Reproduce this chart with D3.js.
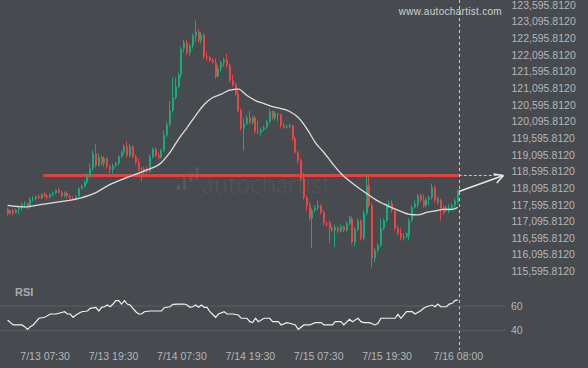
<!DOCTYPE html>
<html><head><meta charset="utf-8">
<script src="https://cdn.jsdelivr.net/npm/d3@7"></script>
<style>html,body{margin:0;padding:0;background:#474a4f;overflow:hidden}</style>
</head><body><svg id="c" width="588" height="368"></svg>
<script>
// ---- data (30-minute candles) ----
const startTime = "2024-07-13T01:00";
const open = [117452,117332,117422,117347,117437,117482,117602,117632,117512,117752,117782,117842,117797,117917,117857,117812,117902,117947,118037,117962,117857,117947,117842,117782,117767,117842,118082,118142,118262,118442,118682,119132,118772,119012,118832,118982,118742,118652,118772,118832,119042,119162,119342,119072,119342,119042,118862,118622,118562,118682,118592,119042,119252,119072,119012,119222,119672,120002,120422,120812,121142,121502,122282,122462,122162,122372,122672,122792,122522,122702,122042,122012,121922,121862,121442,121682,121862,121952,121772,121322,121202,120932,120422,119882,120032,120212,120062,120212,119792,119762,119852,119912,120092,120392,120212,120332,120302,119972,119912,119942,119972,119582,119162,118922,118382,117812,117572,117182,117422,117512,117572,117362,117032,117062,116882,116822,116912,116792,116942,116822,117032,117182,116462,116852,117122,116582,117332,118172,117572,115982,116222,116372,116882,117122,117572,117632,117422,116882,116732,116612,116642,116672,117122,117512,117572,117872,117722,117572,117752,117812,118112,117662,117722,117512,117422,117392,117452,117572,117662];
const high = [117512,117452,117482,117482,117512,117662,117692,117662,117812,117842,117872,117902,117932,117992,117902,117932,117992,118052,118112,118022,117992,117992,117902,117842,117872,118112,118202,118322,118532,118832,119222,119432,119132,119072,119042,119012,118802,118832,118892,119072,119222,119402,119492,119432,119372,119102,118982,118712,118742,118742,119102,119312,119312,119162,119282,119822,120062,120722,121412,121412,121562,122342,122552,122552,122432,122732,123122,122882,122792,122732,122162,122072,122012,121982,121772,121922,122012,122132,121832,121502,121262,121022,120482,120182,120272,120422,120272,120272,120122,119912,119972,120152,120482,120422,120422,120362,120332,120062,120002,120032,120002,119642,119222,118982,118562,117872,117662,117482,117572,117722,117602,117422,117092,117122,116972,117002,116942,117002,116972,117092,117272,117242,116912,117182,117152,117422,118472,118472,117632,116282,116432,117182,117182,117632,117722,117722,117482,116972,116882,116732,116762,117182,117572,117722,117932,117932,117902,117812,117872,118232,118172,117842,117782,117572,117572,117602,117632,117782,118052];
const low = [117272,117302,117272,117332,117302,117422,117512,117452,117482,117692,117722,117752,117752,117812,117752,117782,117842,117902,117932,117812,117812,117782,117752,117722,117722,117812,118052,118112,118202,118382,118622,118712,118742,118772,118742,118682,118532,118532,118712,118772,119012,119102,119012,119012,118982,118802,118592,118292,118502,118532,118562,118982,119012,118952,118982,119162,119612,119942,120362,120752,121082,121412,122162,122102,122072,122282,122492,122462,122432,121982,121922,121892,121832,121382,121412,121592,121742,121712,121262,121142,120872,120362,119822,119222,119972,120002,120002,119732,119702,119642,119792,119852,120032,120152,120122,120092,119912,119882,119882,119882,119522,119132,118832,118322,117752,117422,117122,116282,117362,117422,117302,116972,116942,116432,116762,116312,116732,116762,116762,116792,116972,116402,116342,116792,116522,116522,117272,117512,115712,115862,116162,116312,116822,117062,117482,117362,116822,116672,116522,116522,116582,116522,117062,117482,117512,117662,117512,117512,117572,117752,117662,117602,117122,117302,117362,117332,117392,117512,117632];
const close = [117332,117422,117347,117437,117482,117602,117632,117512,117752,117782,117842,117797,117917,117857,117812,117902,117947,118037,117962,117857,117947,117842,117782,117767,117842,118082,118142,118262,118442,118682,119132,118772,119012,118832,118982,118742,118652,118772,118832,119042,119162,119342,119072,119342,119042,118862,118622,118562,118682,118592,119042,119252,119072,119012,119222,119672,120002,120422,120812,121142,121502,122282,122462,122162,122372,122672,122792,122522,122702,122042,122012,121922,121862,121442,121682,121862,121952,121772,121322,121202,120932,120422,119882,120032,120212,120062,120212,119792,119762,119852,119912,120092,120392,120212,120332,120302,119972,119912,119942,119972,119582,119162,118922,118382,117812,117572,117182,117422,117512,117572,117362,117032,117002,116882,116822,116912,116792,116942,116822,117032,117182,116462,116852,117122,116582,117332,118172,117572,115982,116222,116372,116882,117122,117572,117632,117422,116882,116732,116612,116642,116732,117122,117512,117632,117872,117722,117572,117752,117812,118112,117722,117782,117422,117362,117512,117512,117572,117722,117992];

// moving average read at candle indices
const maIndex = [0,6,12,18,24,30,36,42,48,54,57,60,63,66,69,72,75,78,81,84,87,90,93,96,99,102,105,108,111,114,117,120,123,126,129,132,135,138,141,144,147,150,153,156,158];
const maValue = [117572,117527,117602,117677,117761,117917,118202,118412,118607,118862,119162,119567,119912,120272,120602,120812,120917,121037,121067,120872,120722,120632,120542,120482,120392,120212,119882,119462,119162,118832,118532,118307,118112,117932,117752,117617,117497,117392,117302,117287,117362,117407,117452,117452,117512];

// RSI read at candle indices
const rsiIndex = [0,1,2,3,5,6,7,8,9,10,11,13,15,17,18,20,21,22,23,24,25,26,28,29,31,32,33,34,35,36,37,38,39,40,41,42,43,44,45,46,47,48,50,52,54,55,57,58,60,62,63,64,65,66,67,68,69,70,71,73,74,76,77,79,81,82,84,85,86,87,88,90,92,93,95,96,98,99,101,102,104,106,108,110,111,114,115,117,118,120,121,123,124,125,127,129,130,131,134,136,137,138,140,142,143,145,146,147,149,150,151,152,154,155,156,157,158];
const rsiValue = [48.5,46.3,44.5,44.4,44.4,43,40.8,43,44.4,47.1,49.9,50.7,53.4,53.4,54,55.3,53.4,53.4,50.7,52.6,54,55.3,55.9,58.1,58.9,55.9,58.9,59.4,60.8,59.4,61.6,64.4,64.4,61.6,64.4,61.6,60.8,58.1,55.3,53.4,53.4,55.3,55.9,55.9,55.9,58.6,59.4,61.4,61.6,61.6,60.8,58.9,59.4,60.8,58.9,60.8,58.9,58.9,55.3,50.7,53.4,55.3,53.4,53.4,52.6,49.9,49.9,47.1,46.3,49.9,47.1,49.9,49.9,47.1,47.1,44.4,46.3,45.8,44.4,40.8,44.4,44.4,46.3,46.3,44.4,44.4,47.1,47.1,44.4,49.1,47.1,49.9,47.1,46.3,46.3,44.4,45.8,49.9,49.9,49.9,53.2,49.9,55.3,55.3,53.4,56.1,58.1,59.4,60.8,59.4,61.6,59.4,59.4,61.6,62.2,64.4,65];

const yTickValues = [115595.812,116095.812,116595.812,117095.812,117595.812,118095.812,118595.812,119095.812,119595.812,120095.812,120595.812,121095.812,121595.812,122095.812,122595.812,123095.812,123595.812];
const rsiTicks = [40, 60];
const xTickTimes = ["2024-07-13T07:30","2024-07-13T19:30","2024-07-14T07:30","2024-07-14T19:30","2024-07-15T07:30","2024-07-15T19:30","2024-07-16T08:00"];
const xTickLabels = ["7/13 07:30","7/13 19:30","7/14 07:30","7/14 19:30","7/15 07:30","7/15 19:30","7/16 08:00"];

const levelPrice = 118472;
const levelStart = "2024-07-13T07:15";
const levelEnd = "2024-07-16T08:00";
const forecastEnd = "2024-07-16T16:00";

// ---- drawing ----
const parse = d3.timeParse("%Y-%m-%dT%H:%M");
const t0 = parse(startTime);
const times = close.map((_, i) => d3.timeMinute.offset(t0, 30 * i));
const candles = close.map((c, i) => ({t: times[i], o: open[i], h: high[i], l: low[i], c}));

const svg = d3.select("#c");
const BG = "#474a4f", TXT = "#b3b6ba", GREEN = "#19aa7c", RED = "#ef4242";
svg.append("rect").attr("width", 588).attr("height", 368).attr("fill", BG);

const x = d3.scaleTime().domain([times[0], times[times.length - 1]]).range([7.6, 457.8]);
const y = d3.scaleLinear().domain([115595.812, 123595.812]).range([271.2, 4.9]);
const yr = d3.scaleLinear().domain([40, 60]).range([330.3, 306]);

// watermark
const wm = svg.append("g").attr("fill", "#ffffff").attr("fill-opacity", 0.08);
[[177, 185, 5], [183, 178, 12], [189.5, 173, 9], [195.5, 167, 13]].forEach(b =>
  wm.append("rect").attr("x", b[0]).attr("y", b[1]).attr("width", 3).attr("height", b[2]));
wm.append("text").attr("x", 202).attr("y", 193).attr("font-family", "Lato, 'Open Sans', sans-serif")
  .attr("font-weight", 300).attr("font-size", 25).text("autochartist");

svg.append("text").attr("x", 502).attr("y", 14.5).attr("text-anchor", "end")
  .attr("font-family", "'Liberation Sans', Arial, sans-serif").attr("font-size", 10)
  .attr("letter-spacing", 0.3).attr("fill", "#cfd1d3").text("www.autochartist.com");

// y axis
const yAxis = d3.axisRight(y).tickValues(yTickValues).tickSize(0).tickPadding(0).tickFormat(d3.format(",.4f"));
const ya = svg.append("g").attr("transform", "translate(511.5,0)").call(yAxis);
ya.select(".domain").remove();
ya.selectAll("text").attr("fill", TXT).attr("font-size", 10.5).attr("font-family", "'Liberation Sans', Arial, sans-serif");

// level line
svg.append("line").attr("x1", x(parse(levelStart))).attr("x2", x(parse(levelEnd)) + 1)
  .attr("y1", y(levelPrice)).attr("y2", y(levelPrice))
  .attr("stroke", "#dc4444").attr("stroke-width", 3);
svg.append("line").attr("x1", x(parse(levelEnd)) + 1).attr("x2", x(parse(forecastEnd)))
  .attr("y1", y(levelPrice)).attr("y2", y(levelPrice))
  .attr("stroke", "#c4c6c8").attr("stroke-width", 1).attr("stroke-dasharray", "3,2");

// candles
const cg = svg.append("g");
candles.forEach(d => {
  const cx = Math.round(x(d.t));
  const col = d.c >= d.o ? GREEN : RED;
  cg.append("rect").attr("x", cx - 1).attr("width", 1)
    .attr("y", y(d.h)).attr("height", Math.max(1, y(d.l) - y(d.h))).attr("fill", col);
  const top = y(Math.max(d.o, d.c)), bot = y(Math.min(d.o, d.c));
  cg.append("rect").attr("x", cx - 1).attr("width", 2)
    .attr("y", top).attr("height", Math.max(1, bot - top)).attr("fill", col);
});

// moving average
svg.append("path").datum(maIndex.map((k, i) => [times[k], maValue[i]]))
  .attr("fill", "none").attr("stroke", "#dedede").attr("stroke-width", 1.3)
  .attr("d", d3.line().x(d => x(d[0])).y(d => y(d[1])).curve(d3.curveMonotoneX));

// vertical "now" line
const nowX = Math.round(x(times[times.length - 1])) + 1.5;
svg.append("line").attr("x1", nowX).attr("x2", nowX).attr("y1", 0).attr("y2", 350)
  .attr("stroke", "#c8cacc").attr("stroke-width", 1).attr("stroke-dasharray", "3,3");

// forecast arrow
const ax0 = x(times[times.length - 1]) + 1, ay0 = y(close[close.length - 1]);
const ax1 = x(parse(forecastEnd)), ay1 = y(levelPrice);
svg.append("line").attr("x1", ax0).attr("y1", ay0).attr("x2", ax1).attr("y2", ay1)
  .attr("stroke", "#e8e8e8").attr("stroke-width", 1.5);
const ang = Math.atan2(ay1 - ay0, ax1 - ax0);
[0.5, -0.5].forEach(da => {
  svg.append("line").attr("x1", ax1).attr("y1", ay1)
    .attr("x2", ax1 - 10 * Math.cos(ang + da)).attr("y2", ay1 - 10 * Math.sin(ang + da))
    .attr("stroke", "#e8e8e8").attr("stroke-width", 1.5);
});

// RSI panel
svg.append("text").attr("x", 15).attr("y", 295.5).attr("fill", "#a9acb0")
  .attr("font-family", "'Liberation Sans', Arial, sans-serif").attr("font-weight", "bold")
  .attr("font-size", 11).text("RSI");
rsiTicks.forEach(v => {
  svg.append("line").attr("x1", 0).attr("x2", 506).attr("y1", yr(v)).attr("y2", yr(v))
    .attr("stroke", "#5c5f64").attr("stroke-width", 1);
});
const ra = svg.append("g").attr("transform", "translate(511,0)")
  .call(d3.axisRight(yr).tickValues(rsiTicks).tickSize(0).tickPadding(0));
ra.select(".domain").remove();
ra.selectAll("text").attr("fill", TXT).attr("font-size", 10.5).attr("font-family", "'Liberation Sans', Arial, sans-serif");

svg.append("path").datum(rsiIndex.map((k, i) => [times[k], rsiValue[i]]))
  .attr("fill", "none").attr("stroke", "#f0f0f0").attr("stroke-width", 1.2)
  .attr("d", d3.line().x(d => x(d[0])).y(d => yr(d[1])));

// x axis
const xa = svg.append("g").attr("transform", "translate(0,350)")
  .call(d3.axisBottom(x).tickValues(xTickTimes.map(parse)).tickSize(0).tickPadding(3)
    .tickFormat((d, i) => xTickLabels[i]));
xa.select(".domain").remove();
xa.selectAll("text").attr("fill", TXT).attr("font-size", 10.5).attr("font-family", "'Liberation Sans', Arial, sans-serif");
</script>
</body></html>
